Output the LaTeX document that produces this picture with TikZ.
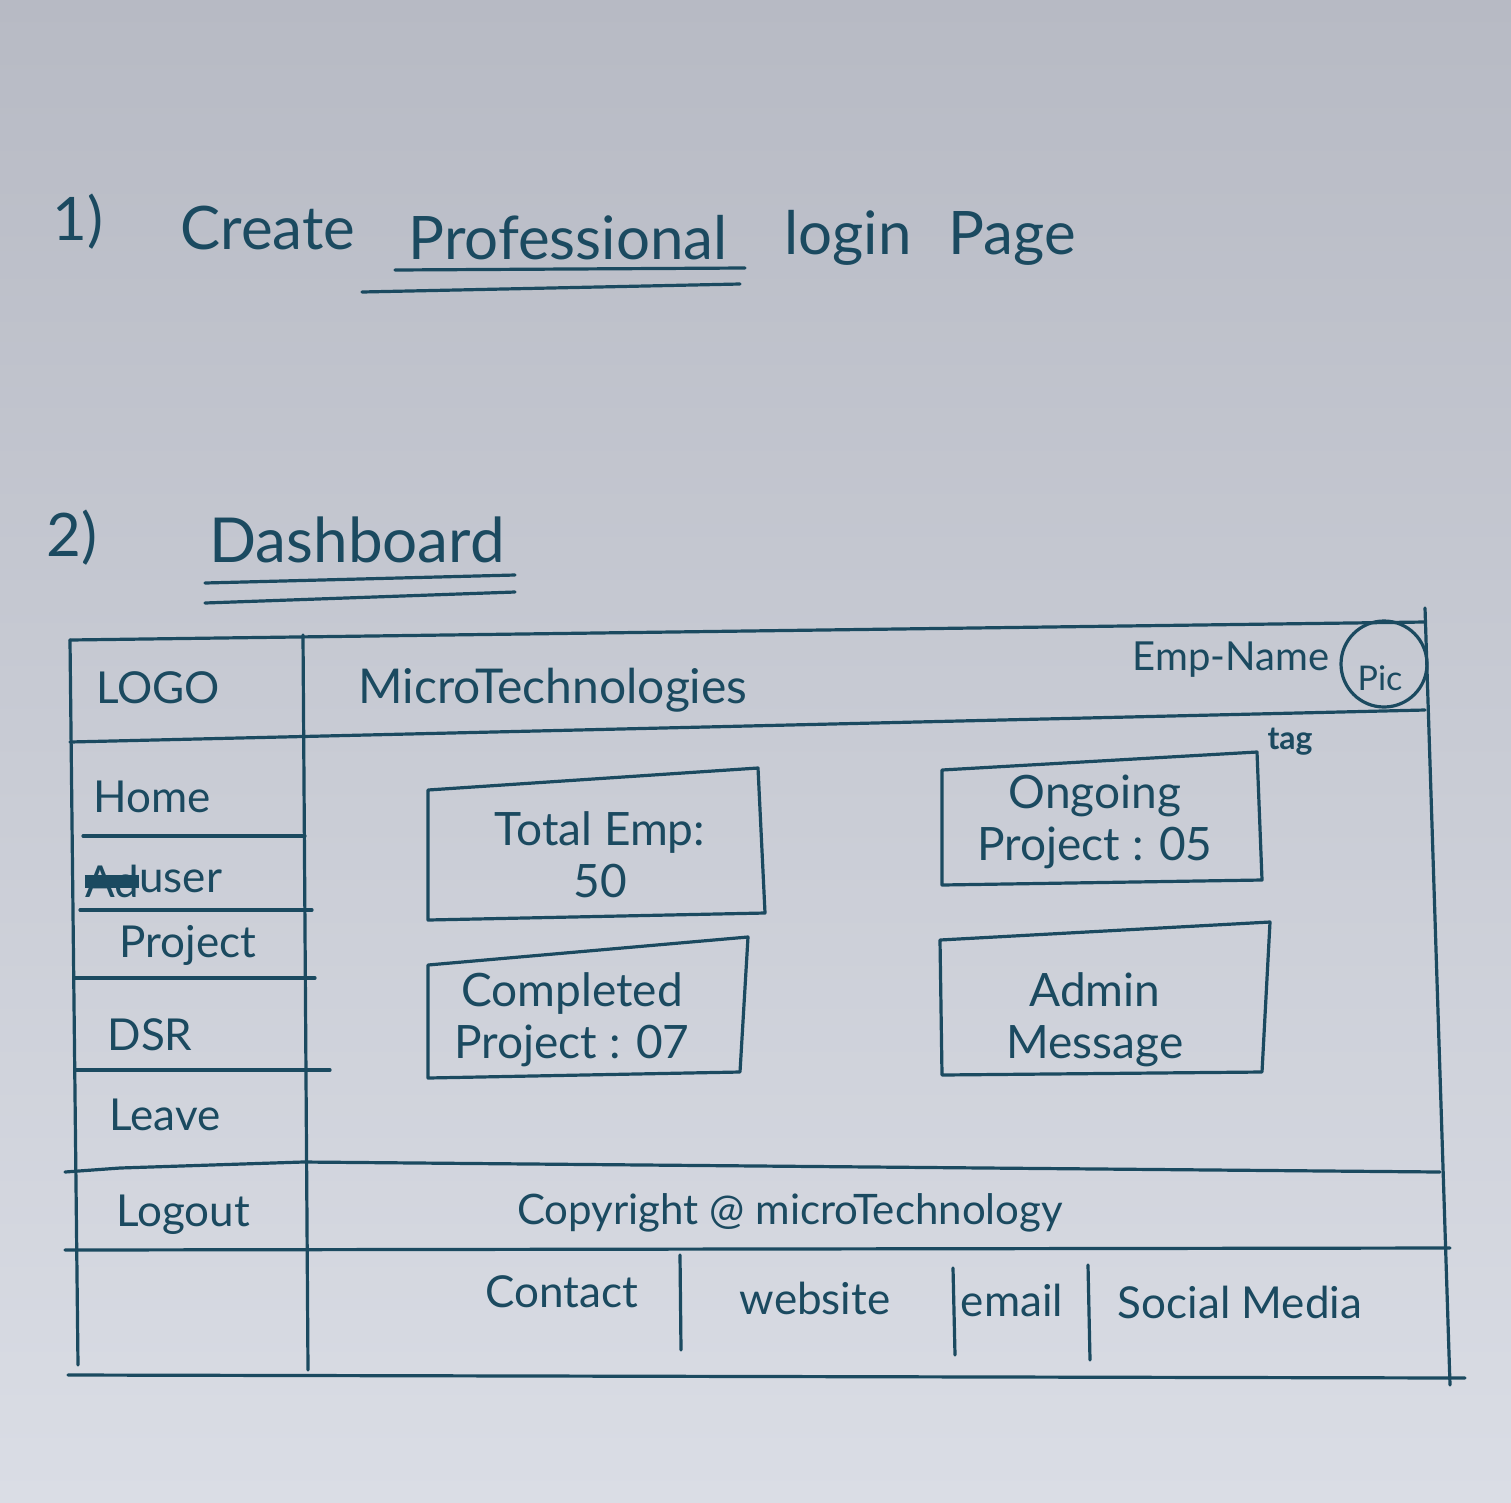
\documentclass[tikz,border=0pt]{standalone}
\usepackage{fontspec}
\setmainfont{Lato}
\definecolor{ink}{HTML}{1B4A60}
\definecolor{paperA}{HTML}{B7BAC4}
\definecolor{paperB}{HTML}{DADDE5}
\tikzset{
  ink/.style={draw=ink, line width=3.2pt, line cap=round, line join=round},
  txt/.style={text=ink, inner sep=0pt, font=\fontsize{44}{50}\selectfont},
  bigtxt/.style={text=ink, inner sep=0pt, font=\fontsize{60}{66}\selectfont},
  cardtxt/.style={text=ink, inner sep=0pt, font=\fontsize{46}{52}\selectfont, align=center},
}
\begin{document}
\begin{tikzpicture}[x=1pt,y=-1pt]
\useasboundingbox (0,0) rectangle (1511,1502);
\shade[top color=paperA, bottom color=paperB] (0,0) rectangle (1511,1502);

% ---------- headings ----------
\node[bigtxt] (n1) at (78,222) {1)};
\node[bigtxt] (w1) at (268,228) {Create};
\node[bigtxt] (w2) at (568,238) {Professional};
\node[bigtxt] (w3) at (848,238) {login};
\node[bigtxt] (w4) at (1012,238) {Page};
\draw[ink] (395,270) -- (745,268);
\draw[ink] (362,292) -- (740,284);

\node[bigtxt] (n2) at (72,538) {2)};
\node[bigtxt, font=\fontsize{62}{68}\selectfont] (dash) at (357,540) {Dashboard};
\draw[ink] (205,583) -- (515,575);
\draw[ink] (205,603) -- (515,592);

% ---------- outer frame ----------
\draw[ink] (70,640) -- (1425,622);
\draw[ink] (1425,608) -- (1450,1385);
\draw[ink] (68,1375) -- (1465,1378);
\draw[ink] (70,640) -- (78,1365);
\draw[ink] (303,635) -- (308,1370);

% header bottom
\draw[ink] (70,742) -- (1425,710);

% sidebar separators
\draw[ink] (83,836) -- (305,836);
\draw[ink] (80,910) -- (312,910);
\draw[ink] (75,978) -- (315,978);
\draw[ink] (75,1070) -- (330,1070);
\draw[ink] (65,1172) -- (120,1168) -- (303,1162) -- (1440,1172);
\draw[ink] (65,1250) -- (1450,1248);

% ---------- header ----------
\node[txt] (logo) at (158,688) {LOGO};
\node[txt, font=\fontsize{48}{54}\selectfont] (brand) at (553,690) {MicroTechnologies};
\node[txt, font=\fontsize{40}{46}\selectfont] (emp) at (1231,660) {Emp-Name};
\node[ink, circle, minimum width=86pt, inner sep=0pt] (pic) at (1384,664) {};
\node[txt, font=\fontsize{34}{40}\selectfont] (pictxt) at (1380,678) {Pic};
\node[txt, font=\bfseries\fontsize{32}{38}\selectfont] (tag) at (1290,742) {tag};

% ---------- sidebar ----------
\node[txt] (home) at (152,797) {Home};
\node[txt] (ad) at (112,881) {Ad};
\draw[ink, line width=13pt, line cap=butt] (ad.west) -- (ad.east);
\node[txt, anchor=west] (user) at (ad.east) {user};
\node[txt] (project) at (188,945) {Project};
\node[txt] (dsr) at (150,1035) {DSR};
\node[txt] (leave) at (165,1115) {Leave};
\node[txt] (logout) at (183,1215) {Logout};

% ---------- cards ----------
\draw[ink] (428,790) -- (758,768) -- (765,913) -- (428,920) -- cycle;
\node[cardtxt] (total) at (600,855) {Total Emp:\\50};

\draw[ink] (942,770) -- (1257,752) -- (1262,880) -- (942,885) -- cycle;
\node[cardtxt] (ongoing) at (1095,822) {Ongoing\\Project : 05};

\draw[ink] (428,965) -- (748,937) -- (740,1072) -- (428,1078) -- cycle;
\node[cardtxt] (completed) at (572,1020) {Completed\\Project : 07};

\draw[ink] (940,940) -- (1270,922) -- (1262,1072) -- (942,1075) -- cycle;
\node[cardtxt] (admin) at (1095,1020) {Admin\\Message};

% ---------- footer ----------
\node[txt, font=\fontsize{42}{48}\selectfont] (copy) at (790,1213) {Copyright @ microTechnology};
\node[txt] (contact) at (562,1292) {Contact};
\node[txt] (website) at (815,1298) {website};
\node[txt] (email) at (1012,1300) {email};
\node[txt] (social) at (1240,1302) {Social Media};
\draw[ink] (680,1255) -- (681,1350);
\draw[ink] (953,1268) -- (955,1355);
\draw[ink] (1088,1265) -- (1090,1360);
\end{tikzpicture}
\end{document}
